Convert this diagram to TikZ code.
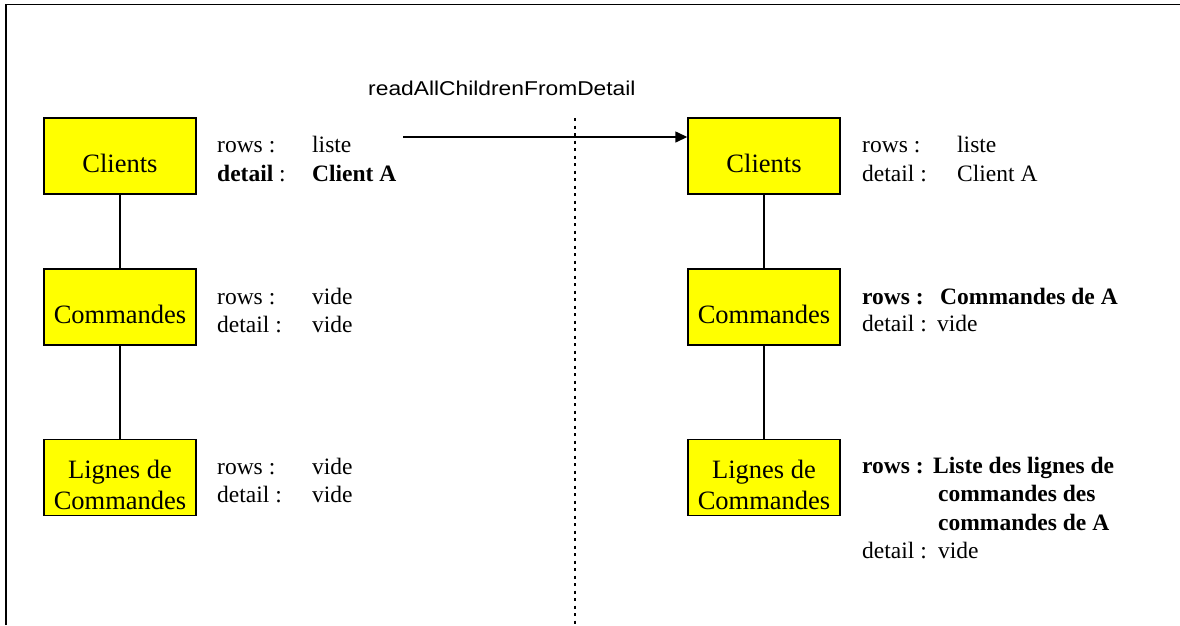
\documentclass[tikz,border=0pt]{standalone}
\usepackage{fontspec}
\setmainfont{Liberation Serif}
\newfontfamily\arialfont{Liberation Sans}
\usetikzlibrary{arrows.meta}
\definecolor{boxyellow}{RGB}{255,255,0}
\tikzset{
  entity/.style={draw=black, fill=boxyellow, line width=1.4pt, minimum width=152pt, minimum height=76pt,
    inner sep=0pt},
  etext/.style={inner sep=0pt, align=center, yshift=-7pt, font=\fontsize{26.5}{31}\selectfont},
  lbl/.style={anchor=base west, inner sep=0pt, font=\fontsize{23.5}{28}\selectfont},
  link/.style={line width=1.4pt},
  flow/.style={line width=1.4pt, -{Triangle[length=12pt,width=11pt]}},
  sep/.style={line width=1.3pt, dash pattern=on 3pt off 4.5pt},
  frame/.style={line width=1.5pt}
}
\begin{document}
\begin{tikzpicture}[x=1pt,y=-1pt]
\useasboundingbox (0,0) rectangle (1180,625);
\draw[frame] (6,625) -- (6,4.5) -- (1180,4.5);

% left column
\node[entity, label={[etext]center:Clients}] (lc) at (120,156) {};
\node[entity, label={[etext]center:Commandes}] (lm) at (120,307) {};
\node[entity, label={[etext]center:{Lignes de\\Commandes}}] (ll) at (120,477.5) {};
\draw[link] (lc) -- (lm);
\draw[link] (lm) -- (ll);

\node[lbl] (lcr) at (217,152) {rows :};
\node[lbl] (lcrv) at (312,152) {liste};
\node[lbl] (lcd) at (217,181) {\textbf{detail} :};
\node[lbl] (lcdv) at (312,181) {\textbf{Client A}};

\node[lbl] (lmr) at (217,304) {rows :};
\node[lbl] (lmrv) at (312,304) {vide};
\node[lbl] (lmd) at (217,332) {detail :};
\node[lbl] (lmdv) at (312,332) {vide};

\node[lbl] (llr) at (217,474) {rows :};
\node[lbl] (llrv) at (312,474) {vide};
\node[lbl] (lld) at (217,502) {detail :};
\node[lbl] (lldv) at (312,502) {vide};

% right column
\node[entity, label={[etext]center:Clients}] (rc) at (764,156) {};
\node[entity, label={[etext]center:Commandes}] (rm) at (764,307) {};
\node[entity, label={[etext]center:{Lignes de\\Commandes}}] (rl) at (764,477.5) {};
\draw[link] (rc) -- (rm);
\draw[link] (rm) -- (rl);

\node[lbl] (rcr) at (862,152) {rows :};
\node[lbl] (rcrv) at (957,152) {liste};
\node[lbl] (rcd) at (862,181) {detail :};
\node[lbl] (rcdv) at (957,181) {Client A};

\node[lbl] (rmr) at (862,304) {\textbf{rows :}};
\node[lbl] (rmrv) at (940,304) {\textbf{Commandes de A}};
\node[lbl] (rmd) at (862,331) {detail :};
\node[lbl] (rmdv) at (937,331) {vide};

\node[lbl] (rlr) at (862,473) {\textbf{rows :}};
\node[lbl] (rlrv) at (933,473) {\textbf{Liste des lignes de}};
\node[lbl] (rlr2) at (938,501.5) {\textbf{commandes des}};
\node[lbl] (rlr3) at (938,530) {\textbf{commandes de A}};
\node[lbl] (rld) at (862,558) {detail :};
\node[lbl] (rldv) at (938,558) {vide};

% separator and transition
\coordinate (dtop) at (575,118);
\coordinate (dbot) at (575,625);
\draw[sep] (dtop) -- (dbot);

\coordinate (astart) at (403,137);
\draw[flow] (astart) -- (astart -| rc.west);
\node[anchor=base west, inner sep=0pt, xscale=1.14, font=\arialfont\fontsize{20}{24}\selectfont] (act) at (368,95.7) {readAllChildrenFromDetail};
\end{tikzpicture}
\end{document}
